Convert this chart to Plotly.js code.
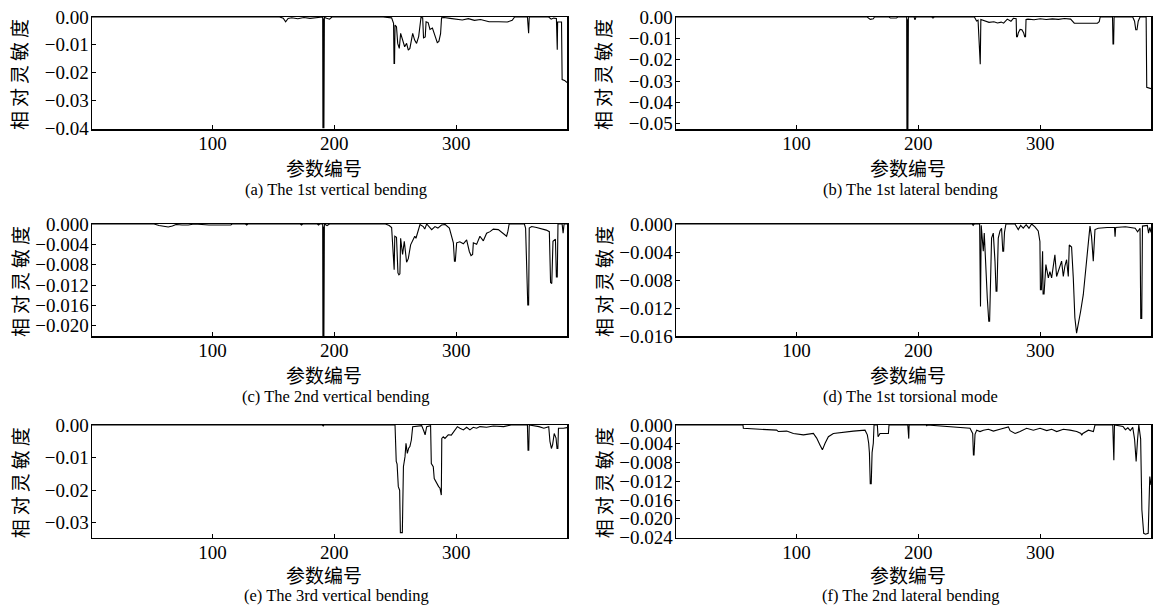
<!DOCTYPE html>
<html><head><meta charset="utf-8">
<script src="https://cdn.plot.ly/plotly-3.0.1.min.js"></script>
<style>html,body{margin:0;padding:0;background:#fff}#chart{width:1163px;height:607px}</style>
</head><body><div id="chart"></div>
<script>
// ---------- data ----------
const xTickVals = [100, 200, 300];
const xRange = [1, 391];

// (a) The 1st vertical bending
const xA = [1,155,158,160,162,165,170,175,180,185,189,190.4,190.6,191,191.4,191.8,193,196,198,240,247,248.6,249,249.4,249.8,251,252,253.3,254.4,256,257.7,259.3,260.7,262,264.3,265.9,267.5,269.2,270.3,271.1,272.5,273.2,274.6,275.3,277,278.5,280.5,282.5,284.5,285.8,287.2,288,290,295,300,305,310,315,320,325,327,335,342,346,348,358.5,359,359.5,360,376,378,380,382.3,382.6,383,383.3,386.5,387,389,391];
const yA = [0,0,-0.0004,-0.0017,-0.0005,-0.0003,-0.0006,-0.0002,-0.0005,-0.0003,0,0,-0.0400,-0.0005,-0.0400,0,-0.0004,-0.0008,0,0,-0.0003,-0.0023,-0.0167,-0.0167,-0.0029,-0.0035,-0.0095,-0.0113,-0.0059,-0.0083,-0.0107,-0.0095,-0.0119,-0.0113,-0.0059,-0.0083,-0.0095,-0.0071,-0.0029,-0.0002,-0.0003,-0.0075,-0.0072,-0.0017,-0.0020,-0.0045,-0.0040,-0.0065,-0.0092,-0.0088,-0.0060,-0.0003,-0.0002,-0.0005,-0.0008,-0.0011,-0.0006,-0.0012,-0.0009,-0.0014,-0.0017,-0.0017,-0.0018,-0.0012,0,0,-0.0058,-0.0058,0,0,-0.0008,-0.0004,-0.0005,-0.0118,-0.0118,-0.0018,-0.0018,-0.0225,-0.0228,-0.0236];

// (b) The 1st lateral bending
const xB = [1,158,160.5,163,164,176,177,182,183,190.4,190.6,191,191.4,191.8,196.5,197.2,198,211,212,213,246,247.8,249,250.3,250.8,251.3,255,258,262,265,268,270,273,276,278,280.3,280.6,281.3,282,283.5,285,286.5,287.3,288,288.4,290,295,300,305,310,315,320,325,327,328,347,348.5,349.3,359.4,359.8,360.3,360.7,376,377.5,378.5,379.5,380.5,382,387,387.5,389,391];
const yB = [0,0,-0.0011,-0.0008,0,0,-0.0005,-0.0005,0,0,-0.0525,-0.0010,-0.0525,0,0,-0.0013,0,0,-0.0005,0,0,-0.0019,-0.0015,-0.0221,-0.0221,-0.0012,-0.0018,-0.0025,-0.0022,-0.0028,-0.0024,-0.0029,-0.0010,-0.0020,-0.0006,-0.0008,-0.0092,-0.0092,-0.0075,-0.0058,-0.0060,-0.0075,-0.0092,-0.0092,-0.0012,-0.0010,-0.0013,-0.0008,-0.0012,-0.0009,-0.0011,-0.0007,-0.0010,-0.0020,-0.0029,-0.0029,-0.0022,0,0,-0.0126,-0.0126,0,0,-0.0020,-0.0060,-0.0060,-0.0020,0,0,-0.0330,-0.0332,-0.0336];

// (c) The 2nd vertical bending
const xC = [1,52,56,60,63.6,67,70,75,80,85,97,115,116,127,128,129,172,173,174,186,187,188,190.4,190.6,191,191.4,191.8,194,196,242,245,247,248.6,249.1,249.6,251,252.2,253,253.8,254.4,256,257.4,259.3,260.7,262.6,264.5,266,267,268.9,270.3,273,274.2,275.8,277.5,279.9,282.6,285,288,291,294.4,296.3,297.7,298.6,299.3,300.4,303,305.9,308.6,310.8,312.2,313.5,314.1,316.8,319.5,322.3,325,327.8,330.5,334.6,338.7,341.4,342.5,343.5,356,357,358.8,359.5,360,362,366,370,374,376.5,377.5,378.5,379.5,381.5,382.3,383,383.6,387,387.8,388.6,391];
const yC = [0,0,-0.0003,-0.0005,-0.0006,-0.0004,-0.0001,-0.0002,-0.0002,0,-0.0002,-0.0002,0,0,-0.0002,0,0,-0.0002,0,0,-0.0002,0,0,-0.0220,-0.0005,-0.0220,0,-0.0003,0,0,-0.0003,-0.0007,-0.0090,-0.0090,-0.0024,-0.0026,-0.0096,-0.0100,-0.0098,-0.0028,-0.0060,-0.0034,-0.0075,-0.0068,-0.0041,-0.0033,-0.0024,-0.0028,-0.0014,-0.0001,-0.0005,-0.0010,0,-0.0005,-0.0011,-0.0005,-0.0008,-0.0002,-0.0001,-0.0008,-0.0028,-0.0037,-0.0073,-0.0073,-0.0037,-0.0035,-0.0039,-0.0031,-0.0054,-0.0062,-0.0060,-0.0037,-0.0040,-0.0024,-0.0033,-0.0018,-0.0015,-0.0010,-0.0011,-0.0018,-0.0024,-0.0014,0,0,-0.0008,-0.0159,-0.0159,-0.0008,-0.0005,-0.0007,-0.0009,-0.0012,-0.0015,-0.0115,-0.0117,-0.0034,-0.0030,-0.0104,-0.0104,0,0,-0.0018,0,0];

// (d) The 1st torsional mode
const xD = [1,244,245,246,250.3,250.6,251,251.6,253.3,254.1,255.5,256.6,257.8,258.5,260.1,261.5,262.9,263.8,264.5,265.6,267,268.3,269.3,270,270.7,271.9,279.3,282,284,286.1,288.5,290.8,293,295.7,298.4,299.8,300.2,301,302,302.4,303.2,304.7,306.7,308,309.4,310.8,312.1,313.5,315.7,317.6,319,320.3,321.7,323.1,323.9,325.8,327.2,328.5,329.9,331.3,333.2,335.4,336.8,338.1,339.5,340.9,342.2,343,343.6,345,347.7,355,361,361.5,362,370,378,380,382,382.6,383.4,384,388,389,390,391];
const yD = [0,0,-0.0002,0,0,-0.0118,-0.0118,-0.0002,-0.0039,-0.0013,-0.0077,-0.0106,-0.0139,-0.0139,-0.0020,-0.0013,-0.0053,-0.0096,-0.0096,-0.0020,-0.0010,-0.0006,-0.0039,-0.0039,-0.0012,0,0,-0.0008,-0.0002,-0.0006,-0.0001,-0.0006,0,-0.0004,-0.0010,-0.0025,-0.0094,-0.0094,-0.0039,-0.0100,-0.0100,-0.0058,-0.0077,-0.0068,-0.0077,-0.0060,-0.0044,-0.0075,-0.0064,-0.0053,-0.0075,-0.0060,-0.0051,-0.0075,-0.0030,-0.0033,-0.0077,-0.0134,-0.0156,-0.0144,-0.0125,-0.0101,-0.0077,-0.0049,-0.0030,-0.0003,-0.0018,-0.0053,-0.0053,-0.0008,-0.0006,-0.0005,-0.0005,-0.0018,-0.0005,-0.0004,-0.0006,-0.0011,-0.0006,-0.0135,-0.0135,-0.0003,-0.0002,-0.0013,-0.0005,-0.0012];

// (e) The 3rd vertical bending
const xE = [1,190,190.9,191.5,249.8,250.3,250.8,251.5,252.5,253.6,254.2,255.8,256.2,256.7,258,258.8,259.9,261,262,263.2,264.3,271.7,273.6,274.5,275.8,279,279.6,281.2,282,284,285.6,286.7,287.3,287.8,288.2,289.4,290.8,293.5,296,299,301,303.1,305.9,308.6,311.3,314,316.8,319.5,325,330.5,339,345,358.5,359,359.6,360,368,372,376,377,378.2,379.2,380.5,382,382.8,383.5,384,388,391];
const yE = [0,0,-0.0003,0,0,-0.0087,-0.0112,-0.0120,-0.0189,-0.0200,-0.0330,-0.0330,-0.0220,-0.0128,-0.0097,-0.0056,-0.0087,-0.0071,-0.0066,-0.0046,-0.0005,-0.0002,-0.0020,-0.0030,-0.0005,-0.0002,-0.0118,-0.0128,-0.0164,-0.0179,-0.0189,-0.0194,-0.0215,-0.0215,-0.0041,-0.0036,-0.0041,-0.0030,-0.0031,-0.0015,-0.0005,-0.0010,-0.0015,-0.0007,-0.0015,-0.0007,-0.0010,-0.0005,-0.0007,-0.0003,-0.0005,0,0,-0.0077,-0.0077,0,-0.0005,-0.0010,-0.0005,-0.0050,-0.0072,-0.0060,-0.0026,-0.0040,-0.0072,-0.0072,-0.0010,-0.0010,-0.0008];

// (f) The 2nd lateral bending
const xF = [1,56,56.3,70,83.7,85,91.9,97.4,105.6,113.8,116.5,119.3,121.2,123.4,126.1,130.2,135.7,146.6,156.2,158.1,159.2,159.8,160.5,161.3,162,163,163.6,166.3,166.9,168.5,175.4,175.9,191.3,191.6,192.1,192.4,206.5,206.8,207.2,242.4,244.6,245.2,245.7,246.5,247.9,250.6,253.4,257.5,261.6,267,273.9,275.3,279.4,283.5,288.9,294.4,299.9,305.4,309.5,313.6,319,324.5,330,333.5,334.1,335,339.6,343.7,345,359.6,360,360.5,361,368,370,372,374,376,377.5,378.2,378.8,380,381,382.5,383.5,385,386.5,388.7,389.3,390,391];
const yF = [0,0,-0.0007,-0.0009,-0.0011,-0.0014,-0.0013,-0.0018,-0.0021,-0.0018,-0.0028,-0.0043,-0.0053,-0.0039,-0.0025,-0.0018,-0.0016,-0.0013,-0.0011,-0.0021,-0.0039,-0.0059,-0.0125,-0.0125,-0.0059,-0.0039,0,0,-0.0025,-0.0018,-0.0018,0,0,-0.0029,-0.0029,0,0,-0.0002,0,-0.0007,-0.0018,-0.0064,-0.0064,-0.0020,-0.0011,-0.0014,-0.0011,-0.0009,-0.0013,-0.0009,-0.0004,-0.0012,-0.0018,-0.0014,-0.0007,-0.0011,-0.0007,-0.0012,-0.0009,-0.0014,-0.0009,-0.0011,-0.0014,-0.0018,-0.0022,-0.0018,-0.0011,-0.0014,0,0,-0.0075,-0.0075,0,-0.0003,-0.0010,-0.0006,-0.0012,-0.0005,-0.0030,-0.0078,-0.0078,-0.0030,0,-0.0030,-0.0181,-0.0231,-0.0233,-0.0231,-0.0136,-0.0110,-0.0128];

const seriesX = [xA, xB, xC, xD, xE, xF];
const seriesY = [yA, yB, yC, yD, yE, yF];

const yRanges = [[-0.0403, 0], [-0.0525, 0], [-0.022, 0], [-0.016, 0], [-0.0345, 0], [-0.024, 0]];
const yTickVals = [
  [0, -0.01, -0.02, -0.03, -0.04],
  [0, -0.01, -0.02, -0.03, -0.04, -0.05],
  [0, -0.004, -0.008, -0.012, -0.016, -0.020],
  [0, -0.004, -0.008, -0.012, -0.016],
  [0, -0.01, -0.02, -0.03],
  [0, -0.004, -0.008, -0.012, -0.016, -0.020, -0.024]
];
const yTickDecimals = [2, 2, 3, 3, 2, 3];
const captions = [
  "(a) The 1st vertical bending",
  "(b) The 1st lateral bending",
  "(c) The 2nd vertical bending",
  "(d) The 1st torsional mode",
  "(e) The 3rd vertical bending",
  "(f) The 2nd lateral bending"
];
const yTitle = "相对灵敏度";
const xTitle = "参数编号";

// ---------- layout ----------
const W = 1163, H = 607;
const cols = [[92, 567], [676, 1151]];
const rows = [[17, 129], [224, 336], [425, 537.5]];
const titleOff = [38.5, 38.5, 37], capOff = [60.5, 60.5, 58];
const xTitleX = [324, 908], capX = [336, 910];
const serif = "Liberation Serif, Times New Roman, serif";
const cjk = "Noto Sans CJK SC, sans-serif";

function fmt(v, d) {
  const s = Math.abs(v).toFixed(d);
  return v < 0 ? "\u2212" + s : s;
}

const traces = [];
const layout = {
  width: W, height: H,
  margin: {l: 0, r: 0, t: 0, b: 0},
  paper_bgcolor: "#fff", plot_bgcolor: "#fff",
  showlegend: false,
  annotations: []
};

for (let i = 0; i < 6; i++) {
  const c = i % 2, r = Math.floor(i / 2);
  const sfx = i === 0 ? "" : String(i + 1);
  traces.push({
    type: "scatter", mode: "lines",
    x: seriesX[i], y: seriesY[i],
    xaxis: "x" + sfx, yaxis: "y" + sfx,
    line: {color: "#000", width: 1.1},
    hoverinfo: "skip"
  });
  layout["xaxis" + sfx] = {
    domain: [cols[c][0] / W, cols[c][1] / W],
    anchor: "y" + sfx,
    range: xRange,
    tickvals: xTickVals,
    ticktext: xTickVals.map(String),
    ticks: "inside", ticklen: 4, tickwidth: 1, tickcolor: "#000",
    ticklabelstandoff: -3,
    showline: true, linewidth: 1.5, linecolor: "#000", mirror: true,
    showgrid: false, zeroline: false,
    tickfont: {family: serif, size: 19, color: "#000"}
  };
  layout["yaxis" + sfx] = {
    domain: [1 - rows[r][1] / H, 1 - rows[r][0] / H],
    anchor: "x" + sfx,
    range: yRanges[i],
    tickvals: yTickVals[i],
    ticktext: yTickVals[i].map(v => fmt(v, yTickDecimals[i])),
    ticks: "inside", ticklen: 4, tickwidth: 1, tickcolor: "#000",
    ticklabelstandoff: -2,
    showline: true, linewidth: 1.5, linecolor: "#000", mirror: true,
    showgrid: false, zeroline: false,
    tickfont: {family: serif, size: 19, color: "#000"}
  };
  const midY = (rows[r][0] + rows[r][1]) / 2;
  layout.annotations.push({
    xref: "paper", yref: "paper",
    x: (cols[c][0] - 73) / W, y: 1 - midY / H,
    text: '<span style="letter-spacing:4px">' + yTitle + '</span>',
    textangle: -90, showarrow: false,
    xanchor: "center", yanchor: "middle",
    font: {family: cjk, size: 19, color: "#000"}
  });
  layout.annotations.push({
    xref: "paper", yref: "paper",
    x: xTitleX[c] / W, y: 1 - (rows[r][1] + titleOff[r]) / H,
    text: xTitle, showarrow: false,
    xanchor: "center", yanchor: "middle",
    font: {family: cjk, size: 19, color: "#000"}
  });
  layout.annotations.push({
    xref: "paper", yref: "paper",
    x: capX[c] / W, y: 1 - (rows[r][1] + capOff[r]) / H,
    text: captions[i], showarrow: false,
    xanchor: "center", yanchor: "middle",
    font: {family: serif, size: 16.5, color: "#000"}
  });
}

Plotly.newPlot("chart", traces, layout, {staticPlot: true, displayModeBar: false});
</script>
</body></html>
